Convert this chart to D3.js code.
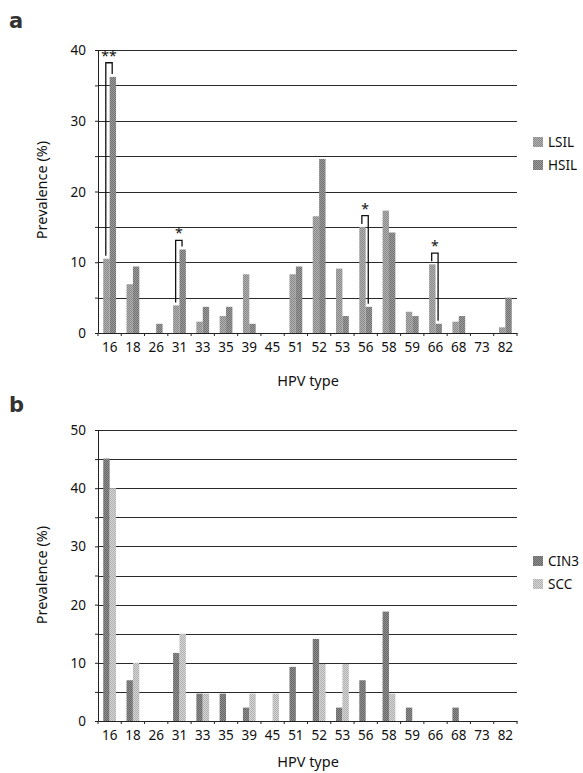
<!DOCTYPE html>
<html><head><meta charset="utf-8">
<script src="https://cdn.jsdelivr.net/npm/d3@7/dist/d3.min.js"></script>
<style>body{margin:0;background:#fff;overflow:hidden} text{font-family:"Noto Sans",sans-serif;fill:#111}</style>
</head><body><svg id="c" width="583" height="773"></svg>
<script>
const types = ["16","18","26","31","33","35","39","45","51","52","53","56","58","59","66","68","73","82"];
const lsil = [10.5,6.9,0,3.9,1.6,2.4,8.3,0,8.3,16.5,9.1,15.0,17.3,3.0,9.7,1.6,0,0.8];
const hsil = [36.2,9.4,1.3,11.8,3.7,3.7,1.3,0,9.4,24.6,2.4,3.7,14.2,2.4,1.3,2.4,0,5.0];
const cin3 = [45.1,7.0,0,11.7,4.7,4.7,2.3,0,9.3,14.1,2.3,7.0,18.8,2.3,0,2.3,0,0];
const scc  = [40.0,10.0,0,15.0,4.7,0,4.7,4.7,0,9.8,9.8,0,4.7,0,0,0,0,0];
const seriesA = ["LSIL","HSIL"];
const seriesB = ["CIN3","SCC"];
const yTicksA = [0,10,20,30,40];
const yTicksB = [0,10,20,30,40,50];
const gridA = [5,10,15,20,25,30,35,40];
const gridB = [5,10,15,20,25,30,35,40,45,50];
const sigTypes = ["16","31","56","66"];
const sigTops = [38.2,13.1,16.6,11.3];
const sigLabels = ["**","*","*","*"];

const svg = d3.select("#c");
const defs = svg.append("defs");
function pat(id, base, dot){
  const p = defs.append("pattern").attr("id",id).attr("width",2).attr("height",2).attr("patternUnits","userSpaceOnUse");
  p.append("rect").attr("width",2).attr("height",2).attr("fill",base);
  p.append("rect").attr("width",1).attr("height",1).attr("fill",dot);
  p.append("rect").attr("x",1).attr("y",1).attr("width",1).attr("height",1).attr("fill",dot);
}
pat("pL","#b0b0b0","#8a8a8a");
pat("pH","#9c9c9c","#727272");
pat("pC","#8e8e8e","#686868");
pat("pS","#d6d6d6","#b0b0b0");

function panel(opt){
  const g = svg.append("g");
  const x = d3.scaleBand().domain(types).range([98,517]).paddingInner(0).paddingOuter(0);
  const xi = d3.scaleBand().domain([0,1]).range([0,x.bandwidth()]).paddingInner(0).paddingOuter(0.82);
  const y = d3.scaleLinear().domain([0,opt.max]).range([opt.y0,opt.y1]);
  // gridlines
  g.selectAll(".grid").data(opt.grid).enter().append("line")
    .attr("x1",98).attr("x2",517).attr("y1",d=>Math.round(y(d))+0.5).attr("y2",d=>Math.round(y(d))+0.5)
    .attr("stroke","#2a2a2a").attr("stroke-width",1);
  // bars
  opt.series.forEach((s,si)=>{
    g.selectAll(".b"+si).data(s).enter().append("rect")
      .attr("x",(d,i)=>x(types[i])+xi(si))
      .attr("width",xi.bandwidth())
      .attr("y",d=>y(d)).attr("height",d=>y(0)-y(d))
      .attr("fill",opt.fills[si]);
  });
  // y axis
  const ya = d3.axisLeft(y).tickValues(d3.range(0,opt.max+1,5)).tickSize(3).tickFormat("");
  const yg = g.append("g").attr("transform","translate(98,0)").call(ya);
  yg.select(".domain").attr("stroke","#222");
  yg.selectAll(".tick line").attr("stroke","#222");
  g.selectAll(".yl").data(opt.yticks).enter().append("text")
    .attr("x",86).attr("y",d=>y(d)+5).attr("text-anchor","end").attr("font-size",13.5).text(d=>d);
  // x axis
  const xa = d3.axisBottom(x).tickSize(0).tickPadding(9);
  const xg = g.append("g").attr("transform",`translate(0,${y(0)})`).call(xa);
  xg.select(".domain").attr("stroke","#222");
  xg.selectAll("text").attr("font-size",13.5).attr("font-family","Noto Sans").attr("fill","#111");
  g.selectAll(".xt").data(types.concat(["end"])).enter().append("line")
    .attr("x1",(d,i)=>98+i*x.step()).attr("x2",(d,i)=>98+i*x.step())
    .attr("y1",y(0)).attr("y2",y(0)+3).attr("stroke","#222");
  // titles
  g.append("text").attr("transform",`translate(47,${opt.ytitleY}) rotate(-90)`).attr("text-anchor","middle").attr("font-size",14.5).text("Prevalence (%)");
  g.append("text").attr("x",308).attr("y",opt.xtitleY).attr("text-anchor","middle").attr("font-size",14.5).text("HPV type");
  g.append("text").attr("x",9).attr("y",opt.labelY).attr("font-size",21).attr("font-weight","bold").style("font-family","DejaVu Sans").style("fill","#333").text(opt.label);
  // legend
  opt.names.forEach((n,i)=>{
    g.append("rect").attr("x",533).attr("y",opt.legY+i*23-5).attr("width",10).attr("height",10).attr("fill",opt.fills[i]);
    g.append("text").attr("x",548).attr("y",opt.legY+i*23+5).attr("font-size",13.5).text(n);
  });
  return {g,x,xi,y};
}

const A = panel({max:40,y0:333,y1:50,grid:gridA,yticks:yTicksA,series:[lsil,hsil],fills:["url(#pL)","url(#pH)"],
  names:seriesA,ytitleY:190,xtitleY:386,label:"a",labelY:28,legY:142});
const B = panel({max:50,y0:721,y1:430,grid:gridB,yticks:yTicksB,series:[cin3,scc],fills:["url(#pC)","url(#pS)"],
  names:seriesB,ytitleY:575,xtitleY:767,label:"b",labelY:412,legY:561});

// significance brackets (panel a)
sigTypes.forEach((t,k)=>{
  const i = types.indexOf(t);
  const xl = A.x(t)+A.xi(0)+A.xi.bandwidth()*0.4;
  const xr = A.x(t)+A.xi(1)+A.xi.bandwidth()*0.4;
  const yt = A.y(sigTops[k]);
  const yl = A.y(lsil[i])-3;
  const yr = A.y(hsil[i])-3;
  A.g.append("path").attr("d",`M${xl},${yl}V${yt}H${xr}V${yr}`).attr("fill","none").attr("stroke","#111").attr("stroke-width",1.3);
  A.g.append("text").attr("x",(xl+xr)/2).attr("y",yt-2).attr("text-anchor","middle").attr("font-size",14).text(sigLabels[k]);
});
</script></body></html>
